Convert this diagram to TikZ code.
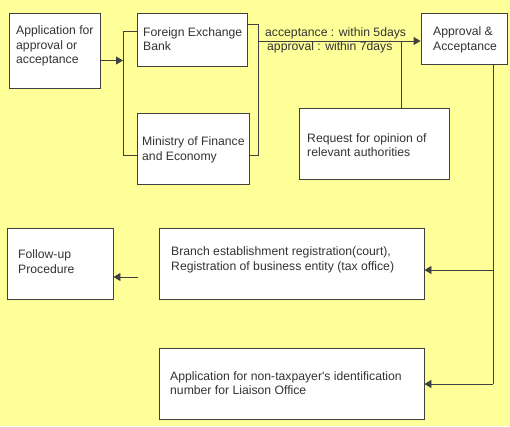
\documentclass[tikz,border=0pt]{standalone}
\usepackage{fontspec}
\setmainfont{Liberation Sans}[Ligatures=TeXOff]
\usetikzlibrary{arrows.meta}
\definecolor{bg}{HTML}{FFFF99}
\definecolor{ln}{HTML}{404040}
\definecolor{tx}{HTML}{333333}
\begin{document}
\begin{tikzpicture}[x=1pt,y=-1pt,
  box/.style={draw=ln,fill=white,line width=0.9pt,inner sep=0pt},
  txt/.style={anchor=west,align=left,text=tx,inner sep=0pt,font=\fontsize{12.2pt}{14.5pt}\selectfont},
  conn/.style={draw=ln,line width=0.9pt},
  arr/.style={conn,-{Triangle[length=7pt,width=8pt]}}]
\fill[bg] (0,0) rectangle (510,426);
\useasboundingbox (0,0) rectangle (510,426);
% boxes
\node[box,minimum width=91pt,minimum height=75pt] (app) at (54.5,50.5) {};
\node[box,minimum width=110pt,minimum height=53pt] (feb) at (192,39.5) {};
\node[box,minimum width=112pt,minimum height=71pt] (mofe) at (193,148.5) {};
\node[box,minimum width=86pt,minimum height=51pt] (appr) at (464,38.5) {};
\node[box,minimum width=150pt,minimum height=71pt] (req) at (374,143.5) {};
\node[box,minimum width=106pt,minimum height=71pt] (follow) at (60,263.5) {};
\node[box,minimum width=265pt,minimum height=71pt] (branch) at (291.5,263.5) {};
\node[box,minimum width=265pt,minimum height=71pt] (nontax) at (291.5,383.5) {};
% texts
\node[txt] (appT) at (16,46) {Application for\\approval or\\acceptance};
\node[txt] (febT) at (143,39) {Foreign Exchange\\Bank};
\node[txt] (mofeT) at (142,150) {Ministry of Finance\\and Economy};
\node[txt] (apprT) at (433,40) {Approval \&\\Acceptance};
\node[txt] (reqT) at (307,145) {Request for opinion of\\relevant authorities};
\node[txt] (followT) at (18,261.5) {Follow-up\\Procedure};
\node[txt] (branchT) at (171,260) {Branch establishment registration(court),\\Registration of business entity (tax office)};
\node[txt] (nontaxT) at (170,383) {Application for non-taxpayer's identification\\number for Liaison Office};
\node[txt] (lab1) at (265,33) {acceptance : within 5days};
\node[txt] (lab2) at (267,47) {approval : within 7days};
% coordinates
\coordinate (bl) at (123,60.5);
\coordinate (lbt) at (123,31);
\coordinate (lbb) at (123,155);
\coordinate (rbt) at (258,24);
\coordinate (rbb) at (258,155);
\coordinate (rbm) at (258,41);
\coordinate (rq) at (401,41);
\coordinate (b1) at (493,270);
\coordinate (dn) at (493,384);
\coordinate (fs) at (138,277);
% connectors
\draw[arr] (app.east |- bl) -- (bl);
\draw[conn] (feb.west |- lbt) -- (lbt) -- (lbb) -- (mofe.west |- lbb);
\draw[conn] (feb.east |- rbt) -- (rbt) -- (rbb) -- (mofe.east |- rbb);
\draw[arr] (rbm) -- (rbm -| appr.west);
\draw[conn] (rq) -- (rq |- req.north);
\draw[conn] (dn |- appr.south) -- (dn);
\draw[arr] (b1) -- (b1 -| branch.east);
\draw[arr] (dn) -- (dn -| nontax.east);
\draw[arr] (fs) -- (fs -| follow.east);
\end{tikzpicture}
\end{document}
